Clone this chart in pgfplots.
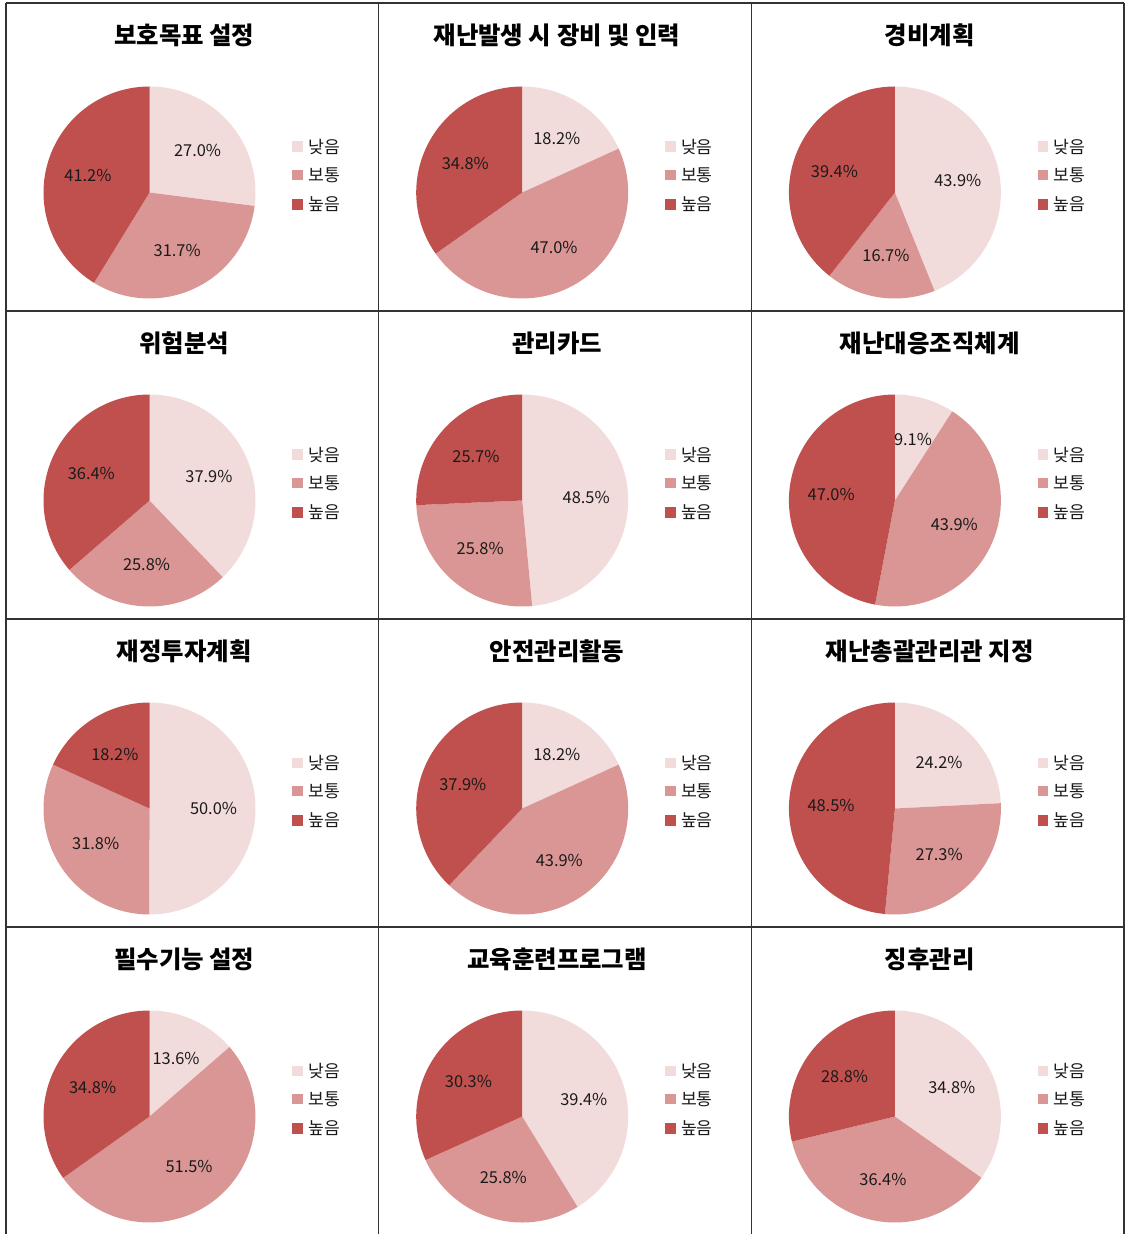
\documentclass[border=0pt]{standalone}
\usepackage{fontspec}
\setmainfont{Noto Sans CJK KR}
\usepackage{pgfplots}
\pgfplotsset{compat=1.18}

\definecolor{cLow}{HTML}{F2DCDB}
\definecolor{cMid}{HTML}{D99694}
\definecolor{cHigh}{HTML}{C0504D}
\definecolor{txt}{HTML}{1A1A1A}

\tikzset{
  ttl/.style={font=\fontsize{12.2}{14}\selectfont\bfseries, text=black, inner sep=0pt},
  lbl/.style={font=\fontsize{8.2}{10}\selectfont, text=txt, inner sep=0pt},
  leg/.style={font=\fontsize{8.6}{10}\selectfont, text=txt, inner sep=0pt, anchor=west},
}

% one cell: column, row, title, low, mid, high (percent)
\newcommand{\piecell}[6]{%
  \pgfmathsetmacro\cx{149.5+372.7*#1}%
  \pgfmathsetmacro\cy{-192.5-308*#2}%
  \pgfmathsetmacro\tot{#4+#5+#6}%
  \pgfmathsetmacro\aB{90-360*(#4/\tot)}%
  \pgfmathsetmacro\aC{\aB-360*(#5/\tot)}%
  \pgfmathsetmacro\mA{(90+\aB)/2}%
  \pgfmathsetmacro\mB{(\aB+\aC)/2}%
  \pgfmathsetmacro\mC{(\aC-270)/2}%
  \pgfmathsetmacro\lAx{\cx+64*cos(\mA)}\pgfmathsetmacro\lAy{\cy+64*sin(\mA)}%
  \pgfmathsetmacro\lBx{\cx+64*cos(\mB)}\pgfmathsetmacro\lBy{\cy+64*sin(\mB)}%
  \pgfmathsetmacro\lCx{\cx+64*cos(\mC)}\pgfmathsetmacro\lCy{\cy+64*sin(\mC)}%
  \pgfmathsetmacro\tx{\cx+34.8}%
  \pgfmathsetmacro\ty{\cy+157.5}%
  \pgfmathsetmacro\sx{\cx+148}%
  \pgfmathsetmacro\gx{\cx+158.5}%
  \pgfmathsetmacro\yA{\cy+45.8}%
  \pgfmathsetmacro\yB{\cy+17.5}%
  \pgfmathsetmacro\yC{\cy-11.8}%
  \edef\tmp{%
    \noexpand\addplot[fill=cLow, draw=none, domain=\aB:90, samples=60]
      ({\cx+106*cos(x)},{\cy+106*sin(x)}) -- (\cx,\cy) -- cycle;
    \noexpand\addplot[fill=cMid, draw=none, domain=\aC:\aB, samples=60]
      ({\cx+106*cos(x)},{\cy+106*sin(x)}) -- (\cx,\cy) -- cycle;
    \noexpand\addplot[fill=cHigh, draw=none, domain=-270:\aC, samples=60]
      ({\cx+106*cos(x)},{\cy+106*sin(x)}) -- (\cx,\cy) -- cycle;
    \noexpand\node[lbl] at (axis cs:\lAx,\lAy) {#4\noexpand\%};
    \noexpand\node[lbl] at (axis cs:\lBx,\lBy) {#5\noexpand\%};
    \noexpand\node[lbl] at (axis cs:\lCx,\lCy) {#6\noexpand\%};
    \noexpand\node[ttl] at (axis cs:\tx,\ty) {#3};
    \noexpand\addplot[only marks, mark=square*, mark size=2.4pt, color=cLow] coordinates {(\sx,\yA)};
    \noexpand\addplot[only marks, mark=square*, mark size=2.4pt, color=cMid] coordinates {(\sx,\yB)};
    \noexpand\addplot[only marks, mark=square*, mark size=2.4pt, color=cHigh] coordinates {(\sx,\yC)};
    \noexpand\node[leg] at (axis cs:\gx,\yA) {낮음};
    \noexpand\node[leg] at (axis cs:\gx,\yB) {보통};
    \noexpand\node[leg] at (axis cs:\gx,\yC) {높음};
  }\tmp
}

\begin{document}
\begin{tikzpicture}
\begin{axis}[
  at={(0,0)}, anchor=north west,
  x=0.5pt, y=0.5pt,
  xmin=0, xmax=1126, ymin=-1234, ymax=0,
  hide axis, clip=false,
]
% cell borders
\addplot[black!80, line width=0.6pt] coordinates {(6,-3) (1124,-3)};
\addplot[black!80, line width=0.6pt] coordinates {(6,-311) (1124,-311)};
\addplot[black!80, line width=0.6pt] coordinates {(6,-619) (1124,-619)};
\addplot[black!80, line width=0.6pt] coordinates {(6,-927) (1124,-927)};
\addplot[black!80, line width=0.6pt] coordinates {(6,-3) (6,-1234)};
\addplot[black!80, line width=0.6pt] coordinates {(378.5,-3) (378.5,-1234)};
\addplot[black!80, line width=0.6pt] coordinates {(751.3,-3) (751.3,-1234)};
\addplot[black!80, line width=0.6pt] coordinates {(1124,-3) (1124,-1234)};

\piecell{0}{0}{보호목표 설정}{27.0}{31.7}{41.2}
\piecell{1}{0}{재난발생 시 장비 및 인력}{18.2}{47.0}{34.8}
\piecell{2}{0}{경비계획}{43.9}{16.7}{39.4}
\piecell{0}{1}{위험분석}{37.9}{25.8}{36.4}
\piecell{1}{1}{관리카드}{48.5}{25.8}{25.7}
\piecell{2}{1}{재난대응조직체계}{9.1}{43.9}{47.0}
\piecell{0}{2}{재정투자계획}{50.0}{31.8}{18.2}
\piecell{1}{2}{안전관리활동}{18.2}{43.9}{37.9}
\piecell{2}{2}{재난총괄관리관 지정}{24.2}{27.3}{48.5}
\piecell{0}{3}{필수기능 설정}{13.6}{51.5}{34.8}
\piecell{1}{3}{교육훈련프로그램}{39.4}{25.8}{30.3}
\piecell{2}{3}{징후관리}{34.8}{36.4}{28.8}
\end{axis}
\pgfresetboundingbox
\path (0,0) rectangle (563pt,-617pt);
\end{tikzpicture}
\end{document}
